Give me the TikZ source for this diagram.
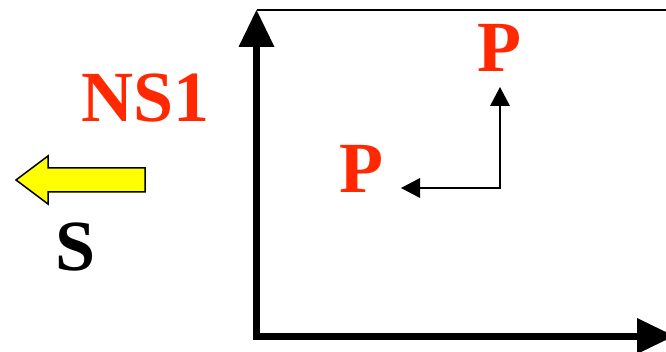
\documentclass[tikz,border=0pt]{standalone}
\usepackage{fontspec}
\setmainfont{Liberation Serif}
\definecolor{pred}{RGB}{255,40,0}
\definecolor{ayel}{RGB}{255,255,0}
\tikzset{
  bigtxt/.style={anchor=base,inner sep=0pt,font=\fontsize{72}{72}\selectfont\bfseries},
  axis/.style={line width=7pt},
  head/.style={fill=black,draw=none},
  thin/.style={line width=1.5pt},
}
\begin{document}
\begin{tikzpicture}[x=1pt,y=-1pt]
\useasboundingbox (0,0) rectangle (666,352);
\clip (0,0) rectangle (666,352);
% texts
\node[bigtxt,text=pred] (ns1) at (145.5,122) {NS1};
\node[bigtxt,text=black] (s) at (75.5,271) {S};
\node[bigtxt,text=pred] (p1) at (361.5,193) {P};
\node[bigtxt,text=pred] (p2) at (499.5,72) {P};
% yellow arrow
\draw[fill=ayel,line width=1.5pt,line join=miter]
  (16,180) -- (48,156) -- (48,168) -- (145,168) -- (145,192) -- (48,192) -- (48,204) -- cycle;
% frame line at top
\coordinate (tl) at (256.5,10.5);
\coordinate (tr) at (670,10.5);
\draw[line width=2pt] (tl) -- (tr);
% axes
\coordinate (o) at (256.5,336);
\coordinate (ybase) at (256.5,46);
\coordinate (xbase) at (637,336);
\draw[axis,line cap=rect] (ybase) -- (o) -- (xbase);
\fill[head] (238.5,47) -- (256.5,10) -- (274.5,47) -- cycle;
\fill[head] (637,318) -- (674,336) -- (637,354) -- cycle;
% small arrow
\coordinate (c) at (500,188);
\coordinate (ha) at (420,188);
\coordinate (hb) at (500,106);
\draw[thin] (ha) -- (c) -- (hb);
\fill[head] (420,178) -- (401,188) -- (420,198) -- cycle;
\fill[head] (490,106) -- (500,87) -- (510,106) -- cycle;
\end{tikzpicture}
\end{document}
